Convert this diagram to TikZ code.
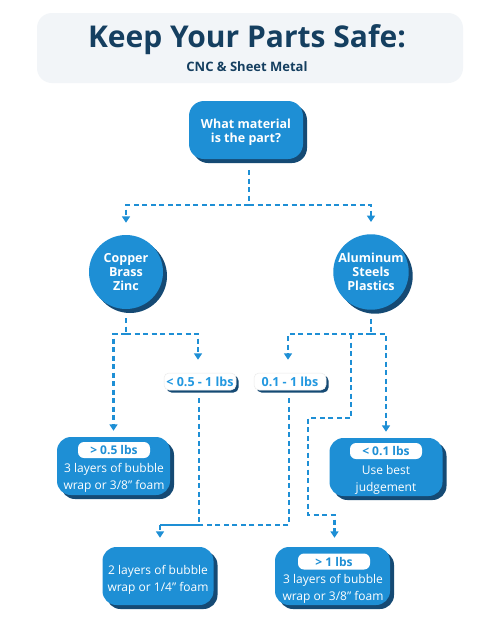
\documentclass[tikz,border=0pt]{standalone}
\usepackage{fontspec}
\setmainfont{Open Sans}
\usetikzlibrary{arrows.meta,shadows}
\definecolor{cblue}{HTML}{1E8FD5}
\definecolor{clab}{HTML}{2298E0}
\definecolor{cnavy}{HTML}{154A74}
\definecolor{ctitle}{HTML}{153F60}
\definecolor{chead}{HTML}{F2F5F8}
\begin{document}
\begin{tikzpicture}[x=1pt,y=-1pt,
  sh/.style={general shadow={shadow xshift=4pt,shadow yshift=-4pt,fill=cnavy}},
  headbox/.style={rectangle,rounded corners=15pt,fill=chead,minimum width=426pt,minimum height=70pt,inner sep=0pt},
  bluebox/.style={rectangle,rounded corners=14pt,fill=cblue,sh,minimum width=113pt,minimum height=58pt,inner sep=0pt},
  circ/.style={circle,fill=cblue,sh,minimum size=74pt,inner sep=0pt,text=white,align=center,font=\bfseries\fontsize{12.5}{14}\selectfont},
  lab/.style={rectangle,rounded corners=5pt,fill=white,draw=black!8,line width=0.5pt,general shadow={shadow xshift=2.5pt,shadow yshift=-2.5pt,fill=cnavy},minimum width=72pt,minimum height=17pt,inner sep=0pt,text=clab,font=\bfseries\fontsize{12.5}{13}\selectfont},
  pill/.style={rectangle,rounded corners=6pt,fill=white,minimum width=72pt,minimum height=16pt,inner sep=0pt,text=cblue,font=\bfseries\fontsize{12}{13}\selectfont},
  body/.style={text=white,align=center,inner sep=0pt,font=\fontsize{12}{16.5}\selectfont},
  dl/.style={draw=cblue,line width=2.2pt,dash pattern=on 5pt off 3.5pt},
  dla/.style={dl,-{Triangle[width=8pt,length=6.5pt]}},
  ]
\useasboundingbox (0,0) rectangle (500,625);
\fill[white] (0,0) rectangle (500,625);
% header
\node[headbox] (head) at (250,48) {};
\node[anchor=base,text=ctitle,font=\bfseries\fontsize{30}{34}\selectfont] (title) at (247,47) {Keep Your Parts Safe:};
\node[anchor=base,text=ctitle,font=\bfseries\fontsize{13}{15}\selectfont] (sub) at (247,71) {CNC \& Sheet Metal};
% question
\node[bluebox,minimum width=114pt,rounded corners=15pt] (q) at (246,130) {};
\node[text=white,align=center,inner sep=0pt,font=\bfseries\fontsize{12.5}{13.5}\selectfont] (qt) at (246,132) {What material\\is the part?};
% circles
\node[circ] (cu) at (126,272) {Copper\\Brass\\Zinc};
\node[circ] (al) at (371,272) {Aluminum\\Steels\\Plastics};
% labels
\node[lab] (l1) at (200,381.5) {< 0.5 - 1 lbs};
\node[lab] (l2) at (290,381.5) {0.1 - 1 lbs};
% boxes
\node[bluebox] (a) at (113.5,466) {};
\node[pill] (ap) at (114,450) {> 0.5 lbs};
\node[body] (at) at (114,478) {3 layers of bubble\\wrap or 3/8" foam};
\node[bluebox] (b) at (386,467) {};
\node[pill] (bp) at (386,451) {< 0.1 lbs};
\node[body] (bt) at (386,480) {Use best\\judgement};
\node[bluebox,minimum width=111pt] (c) at (158,576) {};
\node[body] (ct) at (158,580) {2 layers of bubble\\wrap or 1/4" foam};
\node[bluebox,minimum width=115pt] (d) at (332.5,576) {};
\node[pill] (dp) at (334,561.5) {> 1 lbs};
\node[body] (dt) at (333,589) {3 layers of bubble\\wrap or 3/8" foam};
% connectors
\coordinate (jq) at ([xshift=3pt]q.south |- 0,205);
\draw[dl] ([xshift=3pt,yshift=-11pt]q.south) -- (jq);
\draw[dla] (jq) -| ([yshift=12pt]cu.north);
\draw[dla] (jq) -| ([yshift=12pt]al.north);
\coordinate (jl) at (cu.south |- 0,334);
\draw[dl] ([yshift=-9pt]cu.south) -- (jl);
\draw[dla] (jl) -| ([yshift=6pt]a.north);
\draw[dla] (jl) -| ([xshift=-2pt,yshift=13pt]l1.north);
\coordinate (jr) at (al.south |- 0,334);
\draw[dl] ([yshift=-9pt]al.south) -- (jr);
\draw[dla] (jr) -| ([xshift=-2pt,yshift=13pt]l2.north);
\draw[dla] (jr) -| ([yshift=6pt]b.north);
\coordinate (jb) at ([xshift=2pt]c.north |- 0,525);
\draw[dl] ([xshift=-1pt,yshift=-8pt]l1.south) |- (jb);
\draw[dl] ([xshift=-1pt,yshift=-8pt]l2.south) |- (jb);
\draw[dla] (jb) -- ([xshift=2pt,yshift=9pt]c.north);
\coordinate (k1) at (351,334);
\coordinate (k2) at (308,418);
\draw[dla] (k1) |- (k2) |- ([yshift=10pt,xshift=2pt]d.north |- 0,525) -- ([xshift=2pt,yshift=9pt]d.north);
\end{tikzpicture}
\end{document}
